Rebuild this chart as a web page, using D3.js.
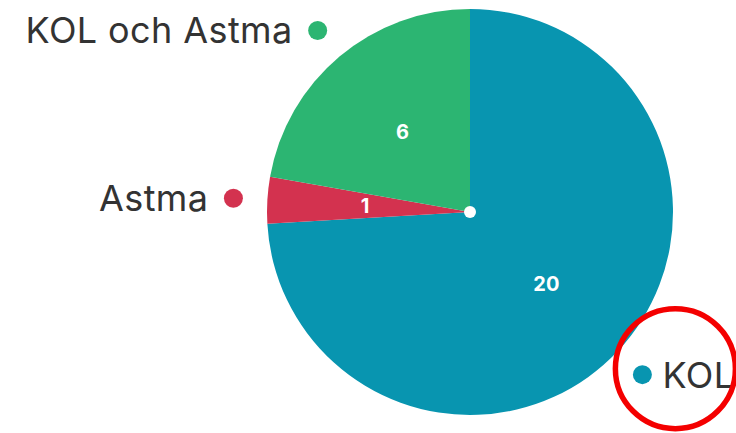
<!DOCTYPE html>
<html>
<head>
<meta charset="utf-8">
<script src="https://cdn.jsdelivr.net/npm/d3@7"></script>
<style>
  html, body { margin: 0; padding: 0; background: #fff; }
  svg { display: block; }
</style>
</head>
<body>
<svg id="chart" width="736" height="433"></svg>
<script>
// Patients per diagnosis
const categories = ["KOL", "Astma", "KOL och Astma"];
const values = [20, 1, 6];
const colors = ["#0895b0", "#d3324f", "#2cb572"];

const width = 736, height = 433;
const cx = 470, cy = 212;
const radius = 203;
const labelRadius = 105;   // value labels inside slices
const legendRadius = 237;  // category markers outside the pie

const svg = d3.select("#chart");
const g = svg.append("g").attr("transform", `translate(${cx},${cy})`);

const data = categories.map((c, i) => ({ category: c, value: values[i], color: colors[i] }));

const pie = d3.pie().value(d => d.value).sort(null);
const arcs = pie(data);

const arc = d3.arc().innerRadius(0).outerRadius(radius);
const labelArc = d3.arc().innerRadius(labelRadius).outerRadius(labelRadius);
const legendArc = d3.arc().innerRadius(legendRadius).outerRadius(legendRadius);

g.selectAll("path.slice")
  .data(arcs)
  .join("path")
  .attr("class", "slice")
  .attr("d", arc)
  .attr("fill", d => d.data.color);

// center hub
g.append("circle").attr("r", 6).attr("fill", "#fff");

// value labels
g.selectAll("text.value")
  .data(arcs)
  .join("text")
  .attr("class", "value")
  .attr("transform", d => `translate(${labelArc.centroid(d)})`)
  .attr("text-anchor", "middle")
  .attr("dy", "0.36em")
  .attr("fill", "#fff")
  .attr("font-family", "Inter, 'Open Sans', sans-serif")
  .attr("font-weight", 700)
  .attr("font-size", 20)
  .text(d => d.data.value);

// outer category labels with colored markers
const outer = g.selectAll("g.outer")
  .data(arcs)
  .join("g")
  .attr("class", "outer")
  .attr("transform", d => `translate(${legendArc.centroid(d)})`);

outer.append("circle")
  .attr("r", 9.5)
  .attr("fill", d => d.data.color);

outer.append("text")
  .attr("x", d => (legendArc.centroid(d)[0] < 0 ? -25 : 20))
  .attr("text-anchor", d => (legendArc.centroid(d)[0] < 0 ? "end" : "start"))
  .attr("dy", "0.36em")
  .attr("fill", "#333")
  .attr("font-family", "Inter, 'Open Sans', sans-serif")
  .attr("font-weight", 400)
  .attr("font-size", 36)
  .attr("letter-spacing", 0.4)
  .text(d => d.data.category);

// highlight ring around the KOL marker
const kol = arcs.find(d => d.data.category === "KOL");
const [kx, ky] = legendArc.centroid(kol);
g.append("circle")
  .attr("cx", kx + 33)
  .attr("cy", ky - 6)
  .attr("r", 60)
  .attr("fill", "none")
  .attr("stroke", "#f40000")
  .attr("stroke-width", 5.5);
</script>
</body>
</html>
